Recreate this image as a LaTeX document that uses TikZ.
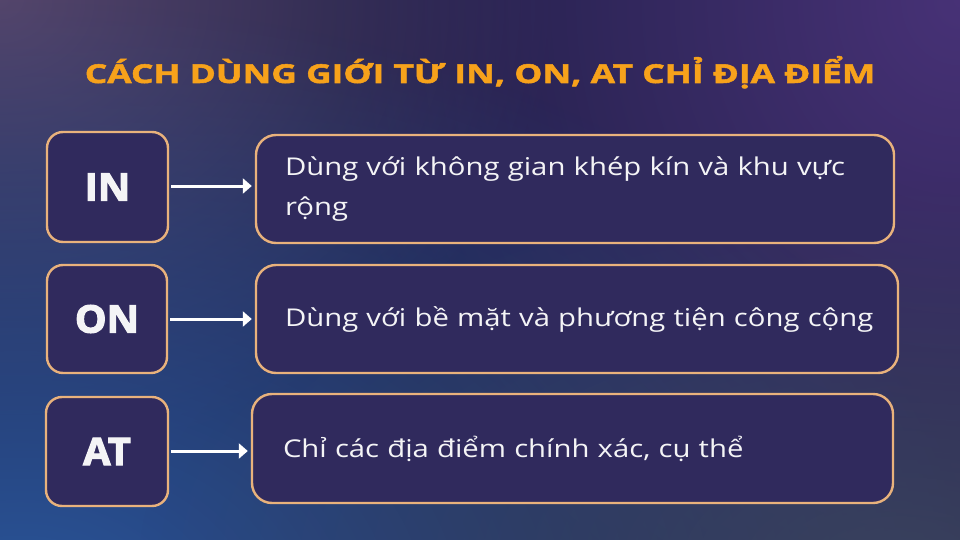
\documentclass[tikz,border=0pt]{standalone}
\usepackage{fontspec}
\setmainfont{Open Sans}[FakeStretch=1.195]
\newfontfamily\titlefont{Open Sans}[FakeStretch=1.36, FakeBold=2]
\newfontfamily\keyfont{Open Sans}[FakeStretch=1.05, FakeBold=3]
\usetikzlibrary{arrows.meta,fadings}
\tikzfading[name=softglow, inner color=transparent!0, outer color=transparent!100]
\definecolor{bgbase}{HTML}{1E1E45}
\definecolor{bgtl}{HTML}{5A4A70}
\definecolor{bgtr}{HTML}{4C347C}
\definecolor{bgbl}{HTML}{2A5599}
\definecolor{bgbr}{HTML}{3C465F}
\definecolor{boxfill}{HTML}{302A5D}
\definecolor{boxline}{HTML}{E9B27C}
\definecolor{titleorange}{HTML}{F7A21B}
\definecolor{txt}{HTML}{F4F4F6}
\tikzset{
  keybox/.style={draw=boxline, fill=boxfill, line width=2.4pt, rounded corners=16pt,
    text=txt, font=\keyfont\bfseries\fontsize{38}{40}\selectfont, inner sep=0pt},
  descbox/.style={draw=boxline, fill=boxfill, line width=2.4pt, rounded corners=20pt,
    text=txt, font=\fontsize{24.5}{39.5}\selectfont, align=left, inner ysep=0pt},
  arr/.style={draw=white, line width=3pt, -{Triangle[length=9pt,width=15pt]}, shorten >=3pt, shorten <=2pt}
}
\begin{document}
\begin{tikzpicture}[x=1pt,y=-1pt]
\useasboundingbox (0,0) rectangle (960,540);
\begin{scope}
\clip (0,0) rectangle (960,540);
\fill[bgbase] (0,0) rectangle (960,540);
\fill[bgtl, path fading=softglow, opacity=0.9] (0,0) ellipse (560pt and 460pt);
\fill[bgtr, path fading=softglow, opacity=0.9] (960,0) ellipse (640pt and 700pt);
\fill[bgbl, path fading=softglow] (20,600) ellipse (960pt and 600pt);
\fill[bgbr, path fading=softglow, opacity=0.85] (900,560) ellipse (760pt and 380pt);
\end{scope}

\node[anchor=base, text=titleorange, font=\titlefont\bfseries\fontsize{26}{30}\selectfont] (title) at (480,83) {CÁCH DÙNG GIỚI TỪ IN, ON, AT CHỈ ĐỊA ĐIỂM};

\node[keybox, minimum width=121pt, minimum height=110pt] (in) at (107.5,187) {IN};
\node[keybox, minimum width=120pt, minimum height=108pt] (on) at (107,319) {ON};
\node[keybox, minimum width=122pt, minimum height=109pt] (at) at (107,451.5) {AT};

\node[descbox, inner xsep=29pt, text width=580pt, minimum height=108pt] (t1) at (575,189)
  {\mbox{Dùng với không gian khép kín và khu vực}\\\mbox{rộng}};
\node[descbox, inner xsep=29pt, text width=584pt, minimum height=108pt] (t2) at (577,319)
  {\mbox{Dùng với bề mặt và phương tiện công cộng}};
\node[descbox, inner xsep=31pt, text width=579pt, minimum height=109pt] (t3) at (572.5,448.5)
  {\mbox{Chỉ các địa điểm chính xác, cụ thể}};

\draw[arr] (in.east |- 0,186) -- (t1.west |- 0,186);
\draw[arr] (on.east) -- (on.east -| t2.west);
\draw[arr] (at.east |- 0,451) -- (t3.west |- 0,451);
\end{tikzpicture}
\end{document}
